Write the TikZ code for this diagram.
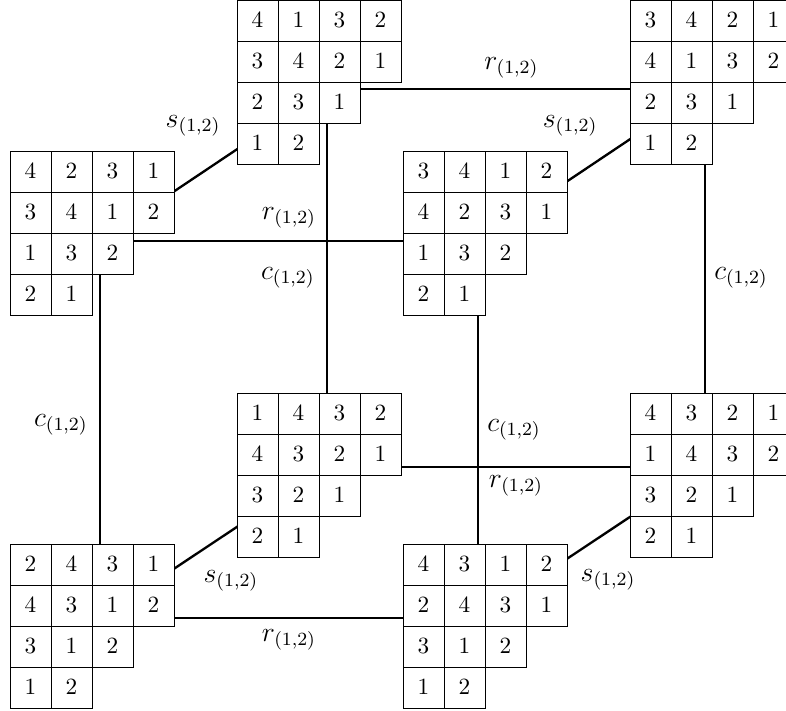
\documentclass[tikz,border=0pt]{standalone}
\usepackage{amsmath}
\usetikzlibrary{calc}

\tikzset{
  box/.style={draw, fill=white, minimum size=17.63pt, inner sep=0pt},
  move/.style={line width=1pt},
  lab/.style={font=\large, inner sep=1pt},
}

% tableau: #1 corner of the cube, #2 shift to its top left cell, #3 rows
\newcommand{\drawtab}[3]{%
  \foreach \row [count=\i] in {#3}{
    \foreach \ent [count=\j] in \row{
      \node[box] (#1-\i-\j) at ($(#1)+(#2)+(\j*41-20.5,\i*41-20.5)$) {$\ent$};
    }
  }
}

\begin{document}
\begin{tikzpicture}[x=0.43pt,y=-0.43pt]
	\useasboundingbox (0,0) rectangle (786,711);
	% corners of the cube
	\coordinate (a) at (100,241);
	\coordinate (b) at (478,241);
	\coordinate (c) at (100,618);
	\coordinate (d) at (478,618);
	\coordinate (e) at (327,89);
	\coordinate (f) at (705,89);
	\coordinate (g) at (327,467);
	\coordinate (h) at (705,467);

	\draw[move] (e) -- node[lab,xshift=-2pt,yshift=9pt] {$r_{(1,2)}$} (f);
	\draw[move] (a) -- node[lab,yshift=9.9pt] {$r_{(1,2)}$} (b);
	\draw[move] (g) -- node[lab,yshift=-8.2pt] {$r_{(1,2)}$} (h);
	\draw[move] (c) -- node[lab,yshift=-9.5pt] {$r_{(1,2)}$} (d);
	\draw[move] (e) -- node[lab,xshift=-16.8pt] {$c_{(1,2)}$} (g);
	\draw[move] (a) -- node[lab,xshift=-16.8pt,yshift=2pt] {$c_{(1,2)}$} (c);
	\draw[move] (b) -- node[lab,xshift=15.5pt] {$c_{(1,2)}$} (d);
	\draw[move] (f) -- node[lab,xshift=15.5pt] {$c_{(1,2)}$} (h);
	\draw[move] (a) -- node[lab,xshift=-8.8pt,yshift=16.8pt] {$s_{(1,2)}$} (e);
	\draw[move] (b) -- node[lab,xshift=-9.2pt,yshift=16.8pt] {$s_{(1,2)}$} (f);
	\draw[move] (c) -- node[lab,xshift=7.5pt,yshift=-16.6pt] {$s_{(1,2)}$} (g);
	\draw[move] (d) -- node[lab,xshift=7.1pt,yshift=-16.1pt] {$s_{(1,2)}$} (h);

	\drawtab{a}{-90,-90}{{4,2,3,1},{3,4,1,2},{1,3,2},{2,1}}
	\drawtab{b}{-75,-90}{{3,4,1,2},{4,2,3,1},{1,3,2},{2,1}}
	\drawtab{c}{-90,-74}{{2,4,3,1},{4,3,1,2},{3,1,2},{1,2}}
	\drawtab{d}{-75,-74}{{4,3,1,2},{2,4,3,1},{3,1,2},{1,2}}
	\drawtab{e}{-90,-89}{{4,1,3,2},{3,4,2,1},{2,3,1},{1,2}}
	\drawtab{f}{-75,-89}{{3,4,2,1},{4,1,3,2},{2,3,1},{1,2}}
	\drawtab{g}{-90,-74}{{1,4,3,2},{4,3,2,1},{3,2,1},{2,1}}
	\drawtab{h}{-75,-74}{{4,3,2,1},{1,4,3,2},{3,2,1},{2,1}}
\end{tikzpicture}
\end{document}
